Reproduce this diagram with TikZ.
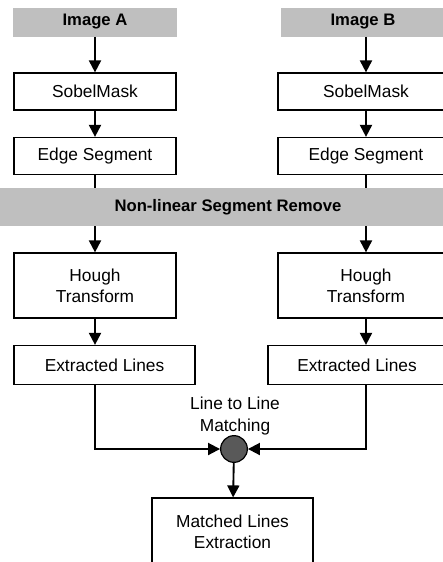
\documentclass[tikz,border=0pt]{standalone}
\usepackage{fontspec}
\setmainfont{Liberation Sans}
\usetikzlibrary{arrows.meta}
\usetikzlibrary{shapes}

\begin{document}
\begin{tikzpicture}[x=0.75pt, y=-0.75pt,
        every node/.style={font=\fontsize{13}{16}\selectfont, align=center, inner sep=0pt},
        box/.style={draw, line width=0.9pt, fill=white, minimum width=121.5pt, minimum height=27.75pt},
        band/.style={fill=black!25, font=\bfseries\fontsize{12.5}{15}\selectfont, minimum height=21.75pt},
        arr/.style={line width=1.4pt, -{Triangle[length=9pt, width=9pt]}},
        ln/.style={line width=1.4pt}]
        \useasboundingbox (0,0) rectangle (443,562);

        % left column
        \node[band, minimum width=123pt] (imgA) at (95,22) {Image A};
        \node[box] (sobA) at (95,91.5) {SobelMask};
        \node[box] (edgeA) at (95,156) {Edge Segment};
        \node[box, minimum height=48.75pt] (houghA) at (95,285.5) {Hough\\Transform};
        \node[box, minimum width=135.75pt, minimum height=29.25pt] (extA) at (104.5,365) {Extracted Lines};

        % right column
        \node[band, minimum width=123pt] (imgB) at (363,22) {Image B};
        \node[box, minimum width=132pt] (sobB) at (366,91.5) {SobelMask};
        \node[box, minimum width=132pt] (edgeB) at (366,156) {Edge Segment};
        \node[box, minimum width=132pt, minimum height=48.75pt] (houghB) at (366,285.5) {Hough\\Transform};
        \node[box, minimum width=133.5pt, minimum height=29.25pt] (extB) at (357,365) {Extracted Lines};

        % shared stage across both columns
        \node[band, minimum width=352.5pt, minimum height=28.5pt] (rm) at (228,207) {Non-linear Segment Remove};

        \node[circle, draw, line width=0.9pt, fill=black!65, minimum size=20pt] (match) at (234,449) {};
        \node (lbl) at (235,416) {Line to Line\\Matching};
        \node[box, minimum width=120.75pt, minimum height=51pt] (res) at (232.5,532) {Matched Lines\\Extraction};

        \draw[arr] (imgA) -- (sobA);
        \draw[arr] (sobA) -- (edgeA);
        \draw[ln] (edgeA) -- (rm.north -| edgeA);
        \draw[arr] (rm.south -| houghA) -- (houghA);
        \draw[arr] (houghA) -- (houghA |- extA.north);
        \draw[arr] (houghA |- extA.south) |- (match);

        \draw[arr] (imgB.south -| sobB) -- (sobB);
        \draw[arr] (sobB) -- (edgeB);
        \draw[ln] (edgeB) -- (rm.north -| edgeB);
        \draw[arr] (rm.south -| houghB) -- (houghB);
        \draw[arr] (houghB) -- (houghB |- extB.north);
        \draw[arr] (houghB |- extB.south) |- (match);

        \draw[arr] (match) -- (res);
    \end{tikzpicture}
\end{document}
